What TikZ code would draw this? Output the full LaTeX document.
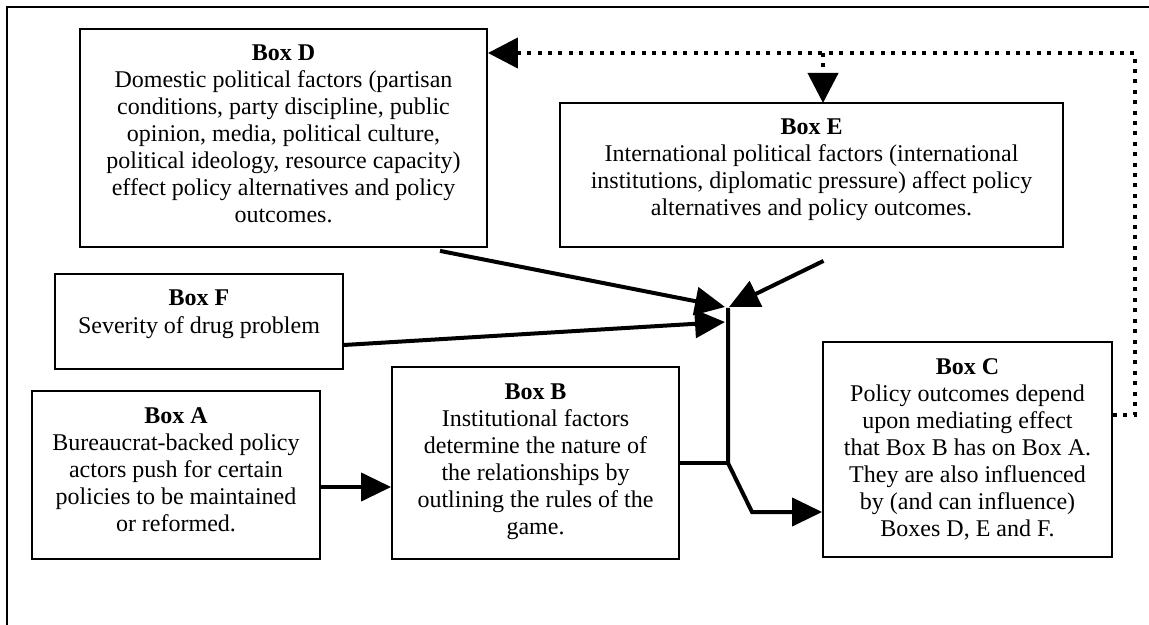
\documentclass[tikz,border=0pt]{standalone}
\usepackage{fontspec}
\setmainfont{Liberation Serif}
\usetikzlibrary{arrows.meta}
\newcommand{\boxtext}[3]{\begin{minipage}[c][#2][t]{#1}\centering\rule{0pt}{16pt}#3\end{minipage}}
\tikzset{
  box/.style={draw, line width=0.9pt, inner sep=0pt, font=\fontsize{12}{13.5}\selectfont},
  arr/.style={line width=2pt, -{Triangle[length=15pt,width=14pt]}},
  link/.style={line width=2pt},
  dots/.style={line width=2pt, dash pattern=on 2pt off 3.2pt, -{Triangle[length=15pt,width=15pt]}}
}
\begin{document}
\begin{tikzpicture}[x=0.5pt, y=-0.5pt]
  \useasboundingbox (0,0) rectangle (1149,625);
  \draw[line width=0.9pt] (7,640) -- (7,7) -- (1160,7);

  \node[box] (boxD) at (283.5,138) {\boxtext{203.5pt}{109pt}{\textbf{Box D}\\
    Domestic political factors (partisan\\
    conditions, party discipline, public\\
    opinion, media, political culture,\\
    political ideology, resource capacity)\\
    effect policy alternatives and policy\\
    outcomes.}};
  \node[box] (boxE) at (811.5,175) {\boxtext{251.5pt}{72pt}{\textbf{Box E}\\
    International political factors (international\\
    institutions, diplomatic pressure) affect policy\\
    alternatives and policy outcomes.}};
  \node[box] (boxF) at (199,321.5) {\boxtext{144pt}{47.5pt}{\textbf{Box F}\\
    Severity of drug problem}};
  \node[box] (boxA) at (176,475) {\boxtext{144pt}{84pt}{\textbf{Box A}\\
    Bureaucrat-backed policy\\
    actors push for certain\\
    policies to be maintained\\
    or reformed.}};
  \node[box] (boxB) at (535.5,463) {\boxtext{143.5pt}{96pt}{\textbf{Box B}\\
    Institutional factors\\
    determine the nature of\\
    the relationships by\\
    outlining the rules of the\\
    game.}};
  \node[box] (boxC) at (967.5,449.5) {\boxtext{144.5pt}{107.5pt}{\textbf{Box C}\\
    Policy outcomes depend\\
    upon mediating effect\\
    that Box B has on Box A.\\
    They are also influenced\\
    by (and can influence)\\
    Boxes D, E and F.}};

  \coordinate (jTop) at (728,308);
  \coordinate (jMid) at (728,463);
  \coordinate (jBend) at (752,512);
  \coordinate (tipD) at (725,307);
  \coordinate (tipF) at (725,322);
  \coordinate (tipE) at (729,307);
  \coordinate (loop) at (1135,53);

  \begin{scope}
    \draw[arr] ([yshift=-6pt]boxA.east) -- ([yshift=-6pt]boxA.east -| boxB.west);
    \draw[link] (boxB.east) -- (jMid);
    \draw[arr] (jTop) -- (jMid) -- (jBend) -- (jBend -| boxC.west);
    \draw[arr] ([xshift=78.25pt,yshift=-1.5pt]boxD.south) -- (tipD);
    \draw[arr] ([yshift=-11.75pt]boxF.east) -- (tipF);
    \draw[arr] ([xshift=6pt,yshift=-6.5pt]boxE.south) -- (tipE);
    \draw[dots] ([yshift=17.25pt]boxC.east) -| (loop) -- (loop -| boxD.east);
    \draw[dots] (loop -| 823,0) -- (823,103);
  \end{scope}
\end{tikzpicture}
\end{document}
